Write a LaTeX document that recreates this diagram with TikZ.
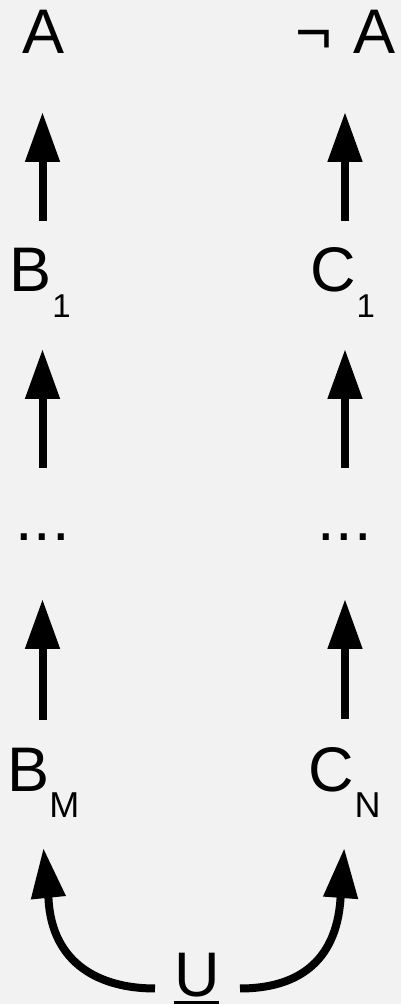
\documentclass[tikz,border=0pt]{standalone}
\usepackage{fontspec}
\setmainfont{Liberation Sans}
\usetikzlibrary{arrows.meta,calc}
\definecolor{bg}{HTML}{F2F2F2}
\newcommand{\subtxt}[2]{\raisebox{-26pt}{\fontsize{#1}{#1}\selectfont #2}}
\begin{document}
\begin{tikzpicture}[x=1pt,y=1pt,
  lbl/.style={inner sep=0pt, outer sep=0pt, anchor=base west, font=\fontsize{63}{63}\selectfont},
  arr/.style={line width=8pt, -{Triangle[length=50pt,width=33pt]}}]
\fill[bg] (0,0) rectangle (401,1004);
\useasboundingbox (0,0) rectangle (401,1004);
\coordinate (colL) at (42.5,0);
\coordinate (colR) at (345,0);
% labels
\node[lbl] (A)  at (22,950)    {A};
\node[lbl] (nA) at (295.5,950) {¬\hspace{21pt}A};
\node[lbl] (B1) at (9.4,712)   {B\hspace{1pt}\subtxt{33}{1}};
\node[lbl] (C1) at (310,712)   {C\hspace{1pt}\subtxt{33}{1}};
\node[lbl] (dL) at (15.3,463)  {.\hspace{1pt}.\hspace{1pt}.};
\node[lbl] (dR) at (317.3,463) {.\hspace{1pt}.\hspace{1pt}.};
\node[lbl] (BM) at (7.4,212)   {B\subtxt{36}{M}};
\node[lbl] (CN) at (308,212)   {C\hspace{1pt}\subtxt{36}{N}};
\node[lbl] (U)  at (174,7)     {U\llap{\rule[-7pt]{45.5pt}{3pt}}};
% straight arrows
\draw[arr, shorten <=28pt, shorten >=58pt] (B1.north -| colL) -- (A.south -| colL);
\draw[arr, shorten <=27pt, shorten >=58pt] (C1.north -| colR) -- (nA.south -| colR);
\draw[arr, shorten <=66.5pt, shorten >=31pt] (dL.north -| colL) -- (B1.south -| colL);
\draw[arr, shorten <=66.5pt, shorten >=31pt] (dR.north -| colR) -- (C1.south -| colR);
\draw[arr, shorten <=29pt, shorten >=58pt] (BM.north -| colL) -- (dL.south -| colL);
\draw[arr, shorten <=29pt, shorten >=58pt] (CN.north -| colR) -- (dR.south -| colR);
% curved arrows
\draw[arr] ([shift={(-19,8.5)}]U.base west) .. controls (100,15.5) and (52,40) .. (48.5,105) -- ([yshift=-30pt]BM.south);
\draw[arr] ([shift={(20.5,8.5)}]U.base east) .. controls (295,15.5) and (336,40) .. (340.5,105) -- ([yshift=-30pt]CN.south);
\end{tikzpicture}
\end{document}
